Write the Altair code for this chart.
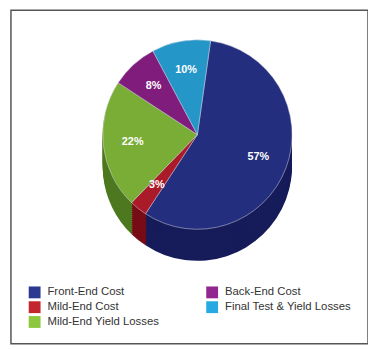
import math
import altair as alt
import pandas as pd

# ---- data ----
categories = ["Front-End Cost", "Mild-End Cost", "Mild-End Yield Losses",
              "Back-End Cost", "Final Test & Yield Losses"]
shares = [57, 3, 22, 8, 10]
labels = ["57%", "3%", "22%", "8%", "10%"]
top_colors = ["#232f7e", "#ab1a29", "#79ad36", "#801c7c", "#2596c8"]
side_colors = ["#161b5a", "#780c16", "#4d781f", "#581255", "#196c93"]
legend_colors = ["#2b3990", "#c1272d", "#8dc63f", "#92278f", "#27aae1"]

# ---- layout ----
W, H = 362, 338
CX, CY = 189, 126
R = 96
DEPTH = 32
START = 0.14

base_df = pd.DataFrame({
    "cat": categories, "value": shares, "label": labels,
    "top": top_colors, "side": side_colors, "ord": list(range(len(categories))),
})

theta_scale = alt.Scale(domain=[0, 100], range=[START, START + 2 * math.pi])

stacked = alt.Chart(base_df).transform_stack(
    stack="value", groupby=[], as_=["v0", "v1"],
    sort=[alt.SortField("ord", order="ascending")]
).transform_calculate(mid="(datum.v0 + datum.v1) / 2")

side_layers = [
    stacked.mark_arc(radius=R).encode(
        theta=alt.Theta("v0:Q", scale=theta_scale),
        theta2="v1:Q",
        x=alt.value(CX),
        y=alt.value(CY + d),
        color=alt.Color("side:N", scale=None),
    )
    for d in range(DEPTH, 0, -2)
]

top = stacked.mark_arc(radius=R, stroke="#d8dbe8", strokeWidth=0.5).encode(
    theta=alt.Theta("v0:Q", scale=theta_scale),
    theta2="v1:Q",
    x=alt.value(CX),
    y=alt.value(CY),
    color=alt.Color("top:N", scale=None),
)

text = stacked.mark_text(
    radius=66, fontSize=11, fontWeight="bold", color="white",
    font="Liberation Sans"
).encode(
    theta=alt.Theta("mid:Q", scale=theta_scale),
    x=alt.value(CX),
    y=alt.value(CY),
    text="label:N",
)

legend_layer = alt.Chart(base_df).mark_square(opacity=0, size=1).encode(
    x=alt.value(0), y=alt.value(0),
    color=alt.Color(
        "cat:N",
        scale=alt.Scale(domain=categories, range=legend_colors),
        legend=alt.Legend(
            title=None, orient="none", legendX=18, legendY=280,
            columns=2, columnPadding=47, rowPadding=3,
            symbolType="square", symbolSize=144, symbolOpacity=1,
            symbolStrokeWidth=0, labelFont="Liberation Sans",
            labelFontSize=11.5, labelColor="#333333", labelOffset=7,
            labelLimit=300,
        ),
    ),
)

chart = alt.layer(*side_layers, top, text, legend_layer).properties(
    width=W, height=H,
    autosize=alt.AutoSizeParams(type="none"),
    padding={"left": 3, "top": 0, "right": 0, "bottom": 0},
).configure_view(
    stroke="#555555", strokeWidth=1.5, fill="white"
)

chart.save("out.html", embed_options={"renderer": "svg", "actions": False})
